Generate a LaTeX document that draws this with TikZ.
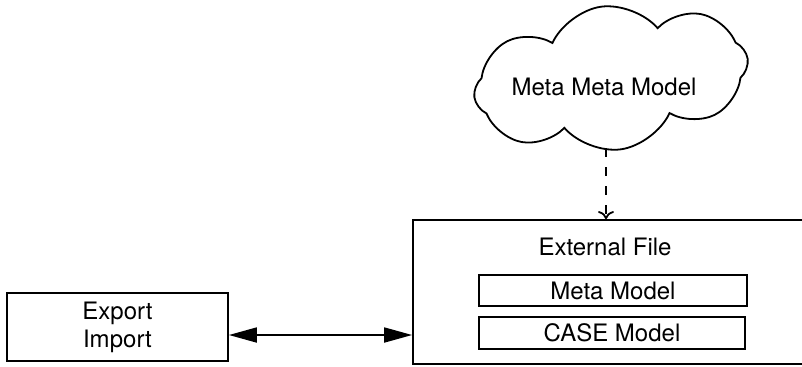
\documentclass[tikz,border=0pt]{standalone}
\usepackage{fontspec}
\setmainfont{TeX Gyre Heros}
\usepackage{tikz}
\usetikzlibrary{shapes.symbols,arrows.meta}

\tikzset{
  modelbox/.style={draw,line width=0.9pt,inner sep=0pt},
  lbl/.style={inner sep=0pt,font=\fontsize{12}{14}\selectfont},
}

\begin{document}
\begin{tikzpicture}[x=0.5pt,y=-0.5pt,line width=0.9pt]
  \useasboundingbox (0,0) rectangle (802,366);
  \node[cloud,draw,cloud puffs=8,cloud ignores aspect,cloud puff arc=115,
        minimum width=138pt,minimum height=72pt,inner sep=0pt,rotate=8] (mmm) at (611,78) {};
  \node[lbl] (mmmlbl) at (604,87) {Meta Meta Model};
  \node[modelbox,minimum width=196.5pt,minimum height=72pt] (ext) at (609.5,292) {};
  \node[lbl] (extlbl) at (605,247) {External File};
  \node[modelbox,minimum width=134pt,minimum height=15.5pt,lbl,draw] (meta) at (613,290.5) {Meta Model};
  \node[modelbox,minimum width=133pt,minimum height=16pt,lbl,draw] (case) at (612,333) {CASE Model};
  \node[modelbox,minimum width=110.5pt,minimum height=34pt,lbl,draw,align=center] (exp) at (117.5,327) {Export\\Import};
  \coordinate (mmmfoot) at (606,148);
  \coordinate (arrowy) at (0,335);
  \draw[dash pattern=on 4.5pt off 5pt,-{To[length=4pt,width=8pt]}] (mmmfoot) -- (mmmfoot |- ext.north);
  \draw[{Triangle[length=14pt,width=7.5pt]}-{Triangle[length=14pt,width=7.5pt]}] (exp.east |- arrowy) -- (ext.west |- arrowy);
\end{tikzpicture}
\end{document}
